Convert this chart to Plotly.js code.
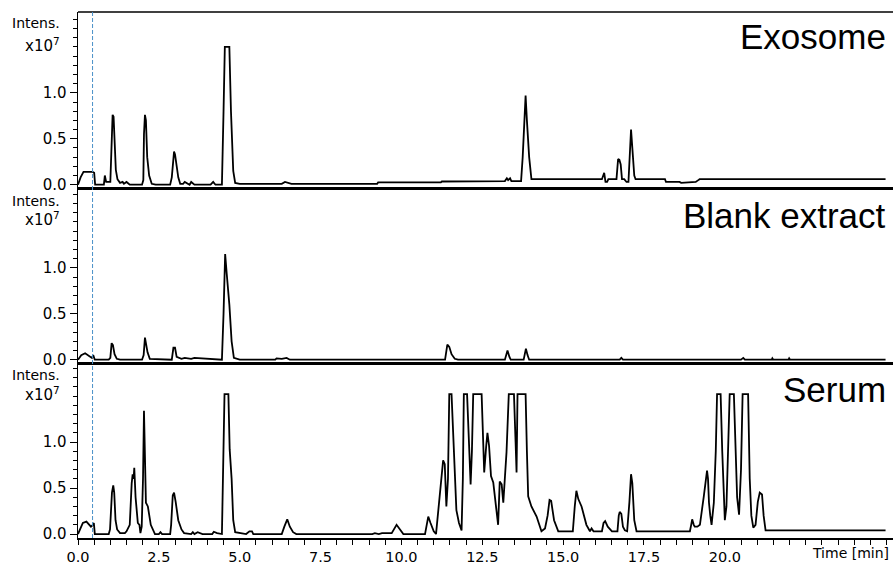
<!DOCTYPE html>
<html>
<head>
<meta charset="utf-8">
<script src="https://cdn.plot.ly/plotly-3.0.1.min.js"></script>
<style>html,body{margin:0;padding:0;background:#fff;}#chart{width:893px;height:564px;}</style>
</head>
<body>
<div id="chart"></div>
<script>
// ---- Data (retention time in min, intensity in x10^7) ----
const panelNames = ["Exosome", "Blank extract", "Serum"];

const exosomeTime = [0,0.08,0.17,0.45,0.5,0.53,0.6,0.8,0.83,0.87,1.0,1.03,1.07,1.1,1.13,1.17,1.22,1.3,1.38,1.42,1.5,1.55,1.6,1.98,2.02,2.04,2.07,2.1,2.14,2.2,2.28,2.4,2.85,2.9,2.97,3.0,3.05,3.1,3.16,3.25,3.3,3.45,3.5,3.6,4.1,4.18,4.25,4.45,4.5,4.54,4.68,4.73,4.8,4.86,5.0,6.3,6.4,6.5,6.6,9.25,9.28,11.22,11.25,13.2,13.26,13.3,13.36,13.4,13.7,13.75,13.84,13.88,13.95,14.02,16.2,16.27,16.31,16.36,16.4,16.65,16.7,16.74,16.78,16.82,16.89,16.96,17.02,17.1,17.14,17.2,17.24,18.15,18.18,18.6,18.65,19.1,19.18,19.22,24.97];
const exosomeIntensity = [0,0.08,0.14,0.14,0.13,0,0,0,0.1,0.03,0.03,0.3,0.76,0.74,0.4,0.16,0.06,0.02,0.03,0.01,0.03,0.01,0,0,0.05,0.55,0.76,0.7,0.3,0.1,0.01,0,0,0.08,0.36,0.33,0.18,0.08,0.01,0.01,0.03,0,0.03,0,0,0.03,0,0,0.8,1.5,1.5,0.8,0.15,0.02,0.01,0.01,0.03,0.02,0.01,0.01,0.025,0.025,0.035,0.04,0.07,0.05,0.07,0.04,0.04,0.3,0.97,0.7,0.3,0.06,0.06,0.13,0.03,0.03,0.06,0.06,0.28,0.27,0.22,0.06,0.06,0.03,0.03,0.6,0.4,0.1,0.06,0.06,0.03,0.03,0.02,0.03,0.05,0.06,0.06];

const blankTime = [0,0.1,0.22,0.35,0.43,0.47,0.52,0.95,1.0,1.04,1.08,1.13,1.2,1.3,1.98,2.03,2.07,2.1,2.15,2.22,2.9,2.95,3.0,3.05,3.2,3.3,3.5,3.6,4.45,4.5,4.55,4.6,4.68,4.75,4.82,5.0,6.1,6.14,6.3,6.45,6.55,11.35,11.42,11.48,11.55,11.65,11.75,13.2,13.28,13.34,13.38,13.78,13.85,13.9,13.95,16.75,16.8,16.85,20.5,20.57,20.62,21.45,21.47,21.5,21.97,21.99,22.02,24.97];
const blankIntensity = [0,0.05,0.07,0.04,0.02,0.05,0,0,0.02,0.18,0.16,0.06,0.01,0,0,0.05,0.24,0.18,0.08,0.01,0,0.13,0.13,0.03,0.01,0.02,0.01,0.02,0,0.5,1.15,0.93,0.6,0.2,0.02,0,0,0.015,0.01,0.02,0,0,0.165,0.14,0.06,0.01,0,0,0.1,0.03,0,0,0.12,0.05,0,0,0.02,0,0,0.02,0,0,0.015,0,0,0.015,0,0];

const serumTime = [0,0.15,0.26,0.4,0.46,0.49,0.52,0.95,0.99,1.05,1.09,1.12,1.16,1.21,1.3,1.45,1.5,1.6,1.66,1.69,1.72,1.74,1.78,1.85,1.9,1.93,1.97,2.01,2.04,2.07,2.1,2.16,2.25,2.38,2.5,2.55,2.6,2.85,2.88,2.93,2.97,3.02,3.1,3.2,3.28,3.5,3.55,3.6,3.7,3.85,4.15,4.2,4.3,4.45,4.5,4.53,4.65,4.69,4.75,4.8,4.86,5.2,5.3,5.38,5.42,6.3,6.38,6.47,6.55,6.65,6.75,9.1,9.18,9.3,9.4,9.7,9.85,9.95,10.06,10.73,10.83,10.9,11.0,11.07,11.15,11.22,11.29,11.34,11.39,11.44,11.48,11.55,11.6,11.65,11.7,11.78,11.86,11.9,11.93,12.03,12.08,12.14,12.18,12.22,12.48,12.52,12.56,12.62,12.66,12.71,12.77,12.84,12.94,12.99,13.04,13.1,13.15,13.25,13.32,13.48,13.53,13.56,13.59,13.84,13.88,13.92,14.02,14.18,14.33,14.44,14.52,14.58,14.63,14.72,14.85,15.3,15.36,15.41,15.47,15.57,15.72,15.83,15.88,15.94,16.2,16.25,16.3,16.38,16.51,16.68,16.72,16.75,16.8,16.85,16.91,16.98,17.05,17.1,17.14,17.2,17.27,18.92,18.96,18.99,19.04,19.07,19.15,19.23,19.35,19.42,19.45,19.48,19.51,19.55,19.59,19.66,19.72,19.76,19.87,19.92,19.97,20.0,20.05,20.1,20.15,20.28,20.33,20.38,20.44,20.5,20.55,20.72,20.77,20.82,20.88,20.95,21.02,21.08,21.15,21.2,21.26,24.97];
const serumIntensity = [0,0.12,0.135,0.08,0.1,0.12,0,0,0.05,0.45,0.53,0.45,0.15,0.05,0.01,0.01,0.03,0.1,0.55,0.65,0.6,0.72,0.4,0.12,0.1,0.01,0.08,0.6,1.34,0.8,0.34,0.3,0.1,0,0,0.02,0,0,0.1,0.42,0.45,0.35,0.15,0.05,0.01,0,0.02,0,0.02,0,0,0.025,0.01,0,0.9,1.52,1.52,0.92,0.6,0.15,0.02,0,0.03,0.03,0,0,0.08,0.16,0.08,0.02,0,0,0.01,0,0.01,0.01,0.1,0.05,0,0,0.19,0.12,0.03,0,0.3,0.6,0.8,0.76,0.3,0.6,1.52,1.52,1.1,0.5,0.26,0.12,0.04,0.6,1.52,1.52,1.0,0.54,0.9,1.52,1.52,1.1,0.67,0.95,1.1,0.96,0.63,0.56,0.26,0.1,0.57,0.54,0.34,0.89,1.52,1.52,1.0,0.67,1.52,1.52,0.9,0.41,0.3,0.19,0.03,0.06,0.2,0.37,0.36,0.15,0.03,0.03,0.3,0.47,0.38,0.3,0.1,0.03,0.06,0.03,0.03,0.12,0.14,0.08,0.03,0.03,0.2,0.24,0.22,0.08,0.04,0.03,0.35,0.65,0.55,0.15,0.03,0.03,0.1,0.16,0.1,0.08,0.08,0.1,0.41,0.6,0.69,0.6,0.34,0.2,0.1,0.34,0.9,1.52,1.52,0.9,0.3,0.15,0.3,0.8,1.52,1.52,0.9,0.4,0.21,0.7,1.52,1.52,0.6,0.2,0.07,0.1,0.35,0.45,0.43,0.2,0.04,0.04];

const xTickVals = [0, 2.5, 5, 7.5, 10, 12.5, 15, 17.5, 20];
const xTickText = ["0.0", "2.5", "5.0", "7.5", "10.0", "12.5", "15.0", "17.5", "20.0"];
const yTickVals = [0, 0.5, 1.0];
const yTickText = ["0.0", "0.5", "1.0"];
const xTitle = "Time [min]";
const yLabel1 = "Intens.";
const yLabel2 = "x10<sup>7</sup>";
const markerTime = 0.45;

// ---- Plot ----
const lineStyle = {color: "#000", width: 1.8};
const traces = [
  {x: exosomeTime, y: exosomeIntensity, xaxis: "x", yaxis: "y", type: "scatter", mode: "lines", line: lineStyle, hoverinfo: "skip"},
  {x: blankTime, y: blankIntensity, xaxis: "x2", yaxis: "y2", type: "scatter", mode: "lines", line: lineStyle, hoverinfo: "skip"},
  {x: serumTime, y: serumIntensity, xaxis: "x3", yaxis: "y3", type: "scatter", mode: "lines", line: lineStyle, hoverinfo: "skip"}
];

const font = "DejaVu Sans, Verdana, sans-serif";
const xRange = [0, 25.2];
function upperX(anchor) {
  return {anchor: anchor, range: xRange, domain: [0, 1], showline: true, linecolor: "#000", linewidth: 3,
          showticklabels: false, ticks: "", showgrid: false, zeroline: false, fixedrange: true};
}
function yAx(anchor, dom, rng) {
  return {anchor: anchor, domain: dom, range: rng, showline: true, linecolor: "#000", linewidth: 1.5,
          tickmode: "array", tickvals: yTickVals, ticktext: yTickText, ticks: "outside", ticklen: 7,
          tickwidth: 1, tickcolor: "#000",
          minor: {tickmode: "linear", tick0: 0, dtick: 0.1, ticks: "outside", ticklen: 4, tickcolor: "#000", tickwidth: 1},
          tickfont: {family: font, size: 15, color: "#000"}, showgrid: false, zeroline: false, fixedrange: true};
}

const d1 = [0.6673, 1], d2 = [0.3346, 0.6673], d3 = [0, 0.3346];
const layout = {
  width: 893, height: 564,
  margin: {l: 78, r: 0, t: 12, b: 26, pad: 0},
  paper_bgcolor: "#fff", plot_bgcolor: "#fff",
  showlegend: false,
  font: {family: font, size: 15, color: "#000"},
  xaxis: upperX("y"),
  xaxis2: upperX("y2"),
  xaxis3: {anchor: "y3", range: xRange, domain: [0, 1], showline: true, linecolor: "#000", linewidth: 2,
           tickmode: "array", tickvals: xTickVals, ticktext: xTickText, ticks: "outside", ticklen: 5,
           tickwidth: 1, tickcolor: "#000",
           minor: {tickmode: "linear", tick0: 0, dtick: 0.5, ticks: "outside", ticklen: 5, tickcolor: "#000", tickwidth: 1},
           tickfont: {family: font, size: 14.5, color: "#000"}, showgrid: false, zeroline: false, fixedrange: true},
  yaxis: yAx("x", d1, [-0.025, 1.88]),
  yaxis2: yAx("x2", d2, [-0.025, 1.88]),
  yaxis3: yAx("x3", d3, [-0.043, 1.87]),
  shapes: [
    {type: "line", xref: "paper", yref: "paper", x0: 0, x1: 1, y0: 1, y1: 1, line: {color: "#000", width: 1.5}},
    {type: "line", xref: "x3", yref: "paper", x0: markerTime, x1: markerTime, y0: 0, y1: 1,
     line: {color: "#4a90c8", width: 1, dash: "4px,2px"}}
  ],
  annotations: []
};

const nameY = [0.9525, 0.614, 0.2814];
const intensY = [0.979, 0.641, 0.3095];
const expY = [0.937, 0.606, 0.2745];
for (let i = 0; i < 3; i++) {
  layout.annotations.push({text: panelNames[i], xref: "paper", yref: "paper", x: 1, y: nameY[i],
    xanchor: "right", yanchor: "middle", xshift: -5, showarrow: false,
    font: {family: "Liberation Sans, Arial, sans-serif", size: 35, color: "#000"}});
  layout.annotations.push({text: yLabel1, xref: "paper", yref: "paper", x: -0.0196, y: intensY[i],
    xanchor: "right", yanchor: "middle", showarrow: false, font: {family: font, size: 14, color: "#000"}});
  layout.annotations.push({text: yLabel2, xref: "paper", yref: "paper", x: -0.0196, y: expY[i],
    xanchor: "right", yanchor: "middle", showarrow: false, font: {family: font, size: 15, color: "#000"}});
}
layout.annotations.push({text: xTitle, xref: "paper", yref: "paper", x: 1, y: -0.0285, xanchor: "right",
  yanchor: "middle", xshift: -2, showarrow: false, font: {family: font, size: 14, color: "#000"}});

Plotly.newPlot("chart", traces, layout, {staticPlot: true, displayModeBar: false});
</script>
</body>
</html>
